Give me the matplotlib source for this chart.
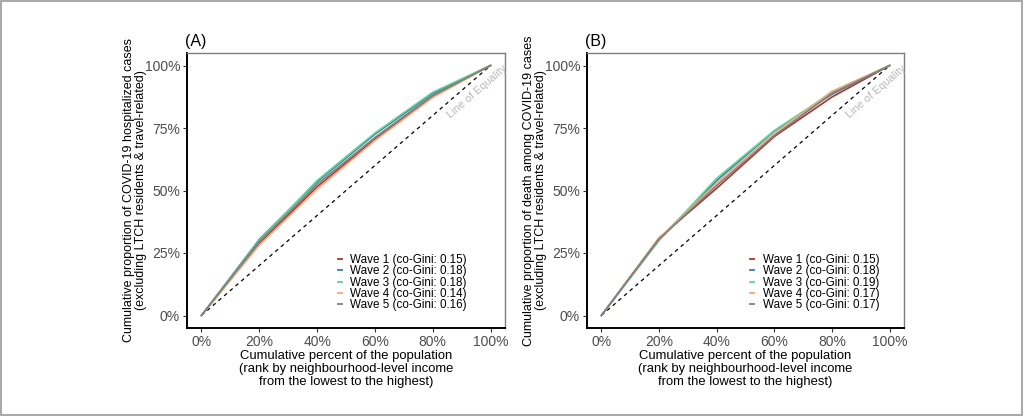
import matplotlib
matplotlib.use("Agg")
import matplotlib.pyplot as plt
from matplotlib.patches import Rectangle
from matplotlib.ticker import FuncFormatter

x_pct = [0.0, 0.2, 0.4, 0.6, 0.8, 1.0]
wave_labels_a = ["Wave 1 (co-Gini: 0.15)", "Wave 2 (co-Gini: 0.18)", "Wave 3 (co-Gini: 0.18)",
                 "Wave 4 (co-Gini: 0.14)", "Wave 5 (co-Gini: 0.16)"]
wave_labels_b = ["Wave 1 (co-Gini: 0.15)", "Wave 2 (co-Gini: 0.18)", "Wave 3 (co-Gini: 0.19)",
                 "Wave 4 (co-Gini: 0.17)", "Wave 5 (co-Gini: 0.17)"]
colors = ["#a8352c", "#3a7d9e", "#5fd49b", "#f2a97c", "#7f7f7f"]

hosp_w1 = [0.0, 0.288, 0.515, 0.705, 0.877, 1.0]
hosp_w2 = [0.0, 0.304, 0.535, 0.725, 0.888, 1.0]
hosp_w3 = [0.0, 0.300, 0.540, 0.730, 0.893, 1.0]
hosp_w4 = [0.0, 0.282, 0.505, 0.700, 0.872, 1.0]
hosp_w5 = [0.0, 0.295, 0.525, 0.712, 0.880, 1.0]

death_w1 = [0.0, 0.310, 0.509, 0.716, 0.874, 1.0]
death_w2 = [0.0, 0.305, 0.540, 0.738, 0.885, 1.0]
death_w3 = [0.0, 0.300, 0.549, 0.740, 0.892, 1.0]
death_w4 = [0.0, 0.308, 0.530, 0.728, 0.897, 1.0]
death_w5 = [0.0, 0.305, 0.520, 0.720, 0.888, 1.0]

ticks = [0.0, 0.25, 0.5, 0.75, 1.0]
xticks = [0.0, 0.2, 0.4, 0.6, 0.8, 1.0]

ylabel_a = "Cumulative proportion of COVID-19 hospitalized cases\n(excluding LTCH residents & travel-related)"
ylabel_b = "Cumulative proportion of death among COVID-19 cases\n(excluding LTCH residents & travel-related)"
xlabel = "Cumulative percent of the population\n(rank by neighbourhood-level income\nfrom the lowest to the highest)"

plt.rcParams['font.family'] = ['Liberation Sans', 'DejaVu Sans']

fig = plt.figure(figsize=(10.24, 4.16), dpi=100)
fig.patches.append(Rectangle((0.001, 0.002), 0.997, 0.996, transform=fig.transFigure,
                             fill=False, edgecolor="#9a9a9a", linewidth=1.2))

W, H = 1024, 416
def make_ax(l, r, t, b):
    return fig.add_axes([l / W, 1 - b / H, (r - l) / W, (b - t) / H])

ax_a = make_ax(187, 505, 53, 328)
ax_b = make_ax(587, 904, 53, 328)

pct = FuncFormatter(lambda v, p: f"{int(round(v * 100))}%")

def draw(ax, series, labels, ylabel, tag, leg_x):
    ax.plot([0, 1], [0, 1], color="black", linestyle=(0, (3, 3)), linewidth=0.9, zorder=2)
    for ys, lab, c in zip(series, labels, colors):
        ax.plot(x_pct, ys, color=c, linewidth=1.2, label=lab, zorder=3)
    ax.set_xlim(-0.05, 1.05)
    ax.set_ylim(-0.05, 1.05)
    ax.set_xticks(xticks)
    ax.set_yticks(ticks)
    ax.xaxis.set_major_formatter(pct)
    ax.yaxis.set_major_formatter(pct)
    ax.tick_params(labelsize=10, labelcolor="#4d4d4d", color="#333333", length=3, width=0.8, pad=2)
    for s in ["top", "right"]:
        ax.spines[s].set_color("#7f7f7f")
        ax.spines[s].set_linewidth(1.0)
    for s in ["left", "bottom"]:
        ax.spines[s].set_color("black")
        ax.spines[s].set_linewidth(1.4)
    ax.set_ylabel(ylabel, fontsize=9.0, labelpad=-2, linespacing=1.05)
    ax.set_xlabel(xlabel, fontsize=9.4, labelpad=1, linespacing=1.12)
    ax.text(-0.005, 1.015, tag, transform=ax.transAxes, fontsize=11.5, ha="left", va="bottom")
    ax.text(0.955, 0.895, "Line of Equality", fontsize=7.8, color="#b8b8b8",
            rotation=40.8, rotation_mode="anchor", ha="center", va="center")
    leg = ax.legend(loc="upper left", bbox_to_anchor=(leg_x, 0.27), frameon=False,
                    fontsize=8.4, handlelength=0.35, handletextpad=0.7, labelspacing=-0.05,
                    borderpad=0, borderaxespad=0)
    for h in leg.get_lines():
        h.set_linewidth(1.3)

draw(ax_a, [hosp_w1, hosp_w2, hosp_w3, hosp_w4, hosp_w5], wave_labels_a, ylabel_a, "(A)", 0.475)
draw(ax_b, [death_w1, death_w2, death_w3, death_w4, death_w5], wave_labels_b, ylabel_b, "(B)", 0.515)

fig.savefig("out.png", dpi=100)
